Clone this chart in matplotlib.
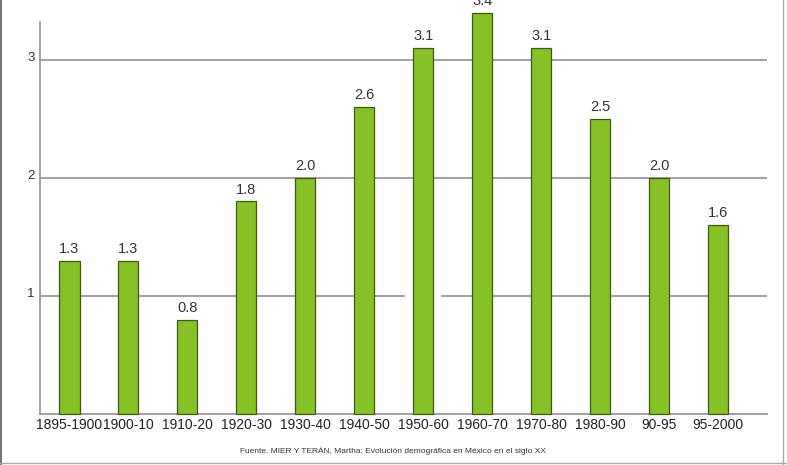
import numpy as np
import matplotlib
matplotlib.use('agg')
import matplotlib.pyplot as plt
from matplotlib.lines import Line2D
from matplotlib.transforms import ScaledTranslation

periods = ['1895-1900', '1900-10', '1910-20', '1920-30', '1930-40', '1940-50',
           '1950-60', '1960-70', '1970-80', '1980-90', '90-95', '95-2000']
rates = [1.3, 1.3, 0.8, 1.8, 2.0, 2.6, 3.1, 3.4, 3.1, 2.5, 2.0, 1.6]
yticks = [1, 2, 3]
source = 'Fuente. MIER Y TERÁN, Martha: Evolución demográfica en México en el siglo XX'

plt.rcParams['font.family'] = ['Liberation Sans', 'DejaVu Sans']
W, H = 787, 465
fig = plt.figure(figsize=(W / 100, H / 100), dpi=100)
ax = fig.add_axes([40 / W, (H - 414) / H, 727 / W, (414 - 22) / H])

x = np.arange(len(periods))
bars = ax.bar(x, rates, width=0.34, color='#86c226', edgecolor='#3b5a16',
              linewidth=0.9, zorder=3, clip_on=False)
for xi, r in zip(x, rates):
    ax.annotate('{:.1f}'.format(r), (xi, r), xytext=(0, 3.5), textcoords='offset points',
                ha='center', va='bottom', fontsize=10.5, color='#333333',
                annotation_clip=False)

ax.set_xlim(-0.5, 11.83)
ax.set_ylim(0, 3.32)

# grid lines (the one at 1 has a small gap in the original)
grid_kw = dict(color='#9a9a9a', linewidth=1.3, zorder=1)
ax.hlines([2, 3], -0.5, 11.83, **grid_kw)
ax.hlines(1, -0.5, 5.69, **grid_kw)
ax.hlines(1, 6.30, 11.83, **grid_kw)

ax.set_yticks(yticks)
ax.set_yticklabels([str(t) for t in yticks])
ax.set_xticks(x)
ax.set_xticklabels(periods)
ax.tick_params(axis='y', length=0, pad=4, labelsize=9.5, labelcolor='#333333')
ax.tick_params(axis='x', length=0, pad=3, labelsize=10, labelcolor='#222222')
for lab in ax.get_yticklabels():
    lab.set_transform(lab.get_transform() + ScaledTranslation(0, 3.5 / 100, fig.dpi_scale_trans))

for s in ['top', 'right']:
    ax.spines[s].set_visible(False)
for s in ['left', 'bottom']:
    ax.spines[s].set_color('#9a9a9a')
    ax.spines[s].set_linewidth(1.3)

fig.text(393.5 / W, 1 - 451 / H, source, ha='center', va='center', fontsize=6, color='#333333')

# frame around the picture
fig.add_artist(Line2D([1 / W, 1 / W], [0, 1], color='#777777', lw=1.5))
fig.add_artist(Line2D([783 / W, 783 / W], [0, 1], color='#aaaaaa', lw=1.0))
fig.add_artist(Line2D([0, 1], [2 / H, 2 / H], color='#aaaaaa', lw=1.0))

fig.savefig('out.png', dpi=100)
